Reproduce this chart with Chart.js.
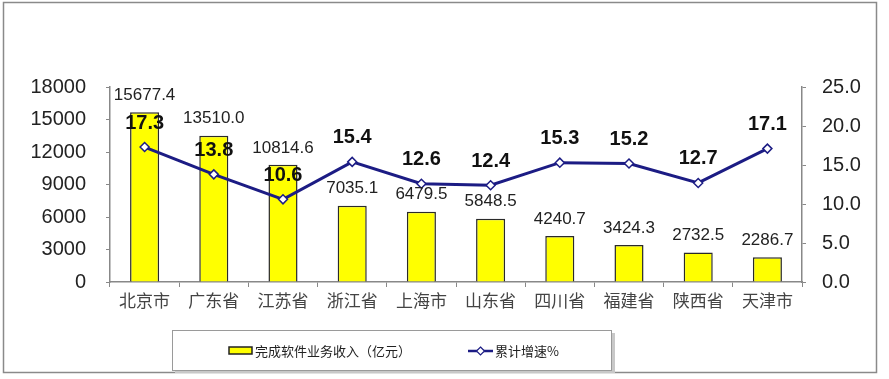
<!DOCTYPE html>
<html><head><meta charset="utf-8">
<script src="https://cdn.jsdelivr.net/npm/chart.js@4/dist/chart.umd.min.js"></script>
<style>html,body{margin:0;padding:0;background:#fff;}#wrap{width:889px;height:379px;position:relative;}</style>
</head><body><div id="wrap"><canvas id="c" width="889" height="379"></canvas></div>
<script>
const categories = ['北京市','广东省','江苏省','浙江省','上海市','山东省','四川省','福建省','陕西省','天津市'];
const revenue = [15677.4,13510.0,10814.6,7035.1,6479.5,5848.5,4240.7,3424.3,2732.5,2286.7];
const growth = [17.3,13.8,10.6,15.4,12.6,12.4,15.3,15.2,12.7,17.1];
const revenueName = '完成软件业务收入（亿元）';
const growthName = '累计增速%';
const leftTicks = [0,3000,6000,9000,12000,15000,18000];
const rightTicks = [0,5,10,15,20,25];

const NAVY = '#1c1c84';
const LAT = '"Liberation Sans", Arial, sans-serif';
const CJK = '"Noto Sans CJK SC", sans-serif';

const decor = {
  id:'decor',
  beforeDraw(chart){
    const ctx = chart.ctx;
    ctx.save();
    ctx.fillStyle='#fff'; ctx.fillRect(0,0,chart.width,chart.height);
    ctx.strokeStyle='#8a8a8a'; ctx.lineWidth=1.5;
    ctx.strokeRect(3.5,2.5,873,370);
    ctx.restore();
  },
  afterDatasetsDraw(chart){
    const ctx = chart.ctx;
    ctx.save();
    ctx.textAlign='center'; ctx.textBaseline='middle';
    const bm = chart.getDatasetMeta(0);
    ctx.font = '17px '+LAT; ctx.fillStyle='#222';
    bm.data.forEach((el,i)=>{ ctx.fillText(revenue[i].toFixed(1), el.x, el.y-17); });
    const lm = chart.getDatasetMeta(1);
    ctx.font = 'bold 20px '+LAT; ctx.fillStyle='#111';
    lm.data.forEach((el,i)=>{ ctx.fillText(growth[i].toFixed(1), el.x, el.y-24); });
    // legend box
    ctx.fillStyle='#c8c8c8'; ctx.fillRect(175,333,440,40);
    ctx.fillStyle='#fff'; ctx.fillRect(172,330,440,40);
    ctx.strokeStyle='#9a9a9a'; ctx.lineWidth=1; ctx.strokeRect(172.5,330.5,439,40);
    // bar swatch
    ctx.fillStyle='#ffff00'; ctx.strokeStyle='#222'; ctx.lineWidth=1.5;
    ctx.fillRect(229,347,23,7); ctx.strokeRect(229,347,23,7);
    ctx.font='13px '+CJK; ctx.fillStyle='#222'; ctx.textAlign='left';
    ctx.fillText(revenueName, 255, 351);
    // line swatch
    ctx.strokeStyle=NAVY; ctx.lineWidth=2.5;
    ctx.beginPath(); ctx.moveTo(468,351); ctx.lineTo(493,351); ctx.stroke();
    ctx.fillStyle='#fff'; ctx.lineWidth=1.2;
    ctx.beginPath(); ctx.moveTo(480.5,347); ctx.lineTo(484.5,351); ctx.lineTo(480.5,355); ctx.lineTo(476.5,351); ctx.closePath(); ctx.fill(); ctx.stroke();
    ctx.fillStyle='#222';
    ctx.fillText(growthName, 495, 351);
    ctx.restore();
  }
};

new Chart(document.getElementById('c'),{
  data:{
    labels:categories,
    datasets:[
      {type:'bar',label:revenueName,data:revenue,yAxisID:'y',backgroundColor:'#ffff00',borderColor:'#2a2a2a',borderWidth:1.5,barPercentage:0.42,categoryPercentage:1,order:2},
      {type:'line',label:growthName,data:growth,yAxisID:'y1',borderColor:NAVY,borderWidth:3,pointStyle:'rectRot',pointRadius:4.5,pointBackgroundColor:'#fff',pointBorderColor:NAVY,pointBorderWidth:1.5,tension:0,order:1}
    ]
  },
  options:{
    responsive:false,animation:false,
    layout:{padding:{left:0,right:0,top:87,bottom:0}},
    plugins:{legend:{display:false},tooltip:{enabled:false}},
    scales:{
      x:{
        grid:{drawOnChartArea:false,drawTicks:true,tickLength:5,color:'#888',offset:true},
        border:{display:true,color:'#888',width:1.5},
        ticks:{font:{family:CJK,size:17},color:'#444',padding:3},
        afterFit(s){s.height=97;}
      },
      y:{
        position:'left',min:0,max:18000,
        afterBuildTicks(s){s.ticks=leftTicks.map(v=>({value:v}));},
        grid:{drawOnChartArea:false,tickLength:4,color:'#888'},
        border:{display:true,color:'#888',width:1.5},
        ticks:{font:{family:LAT,size:20},color:'#222',padding:20,callback:v=>String(v)},
        afterFit(s){s.width=110;}
      },
      y1:{
        position:'right',min:0,max:25,
        afterBuildTicks(s){s.ticks=rightTicks.map(v=>({value:v}));},
        grid:{drawOnChartArea:false,tickLength:4,color:'#888'},
        border:{display:true,color:'#888',width:1.5},
        ticks:{font:{family:LAT,size:20},color:'#222',padding:16,callback:v=>Number(v).toFixed(1)},
        afterFit(s){s.width=87;}
      }
    }
  },
  plugins:[decor]
});
</script></body></html>
